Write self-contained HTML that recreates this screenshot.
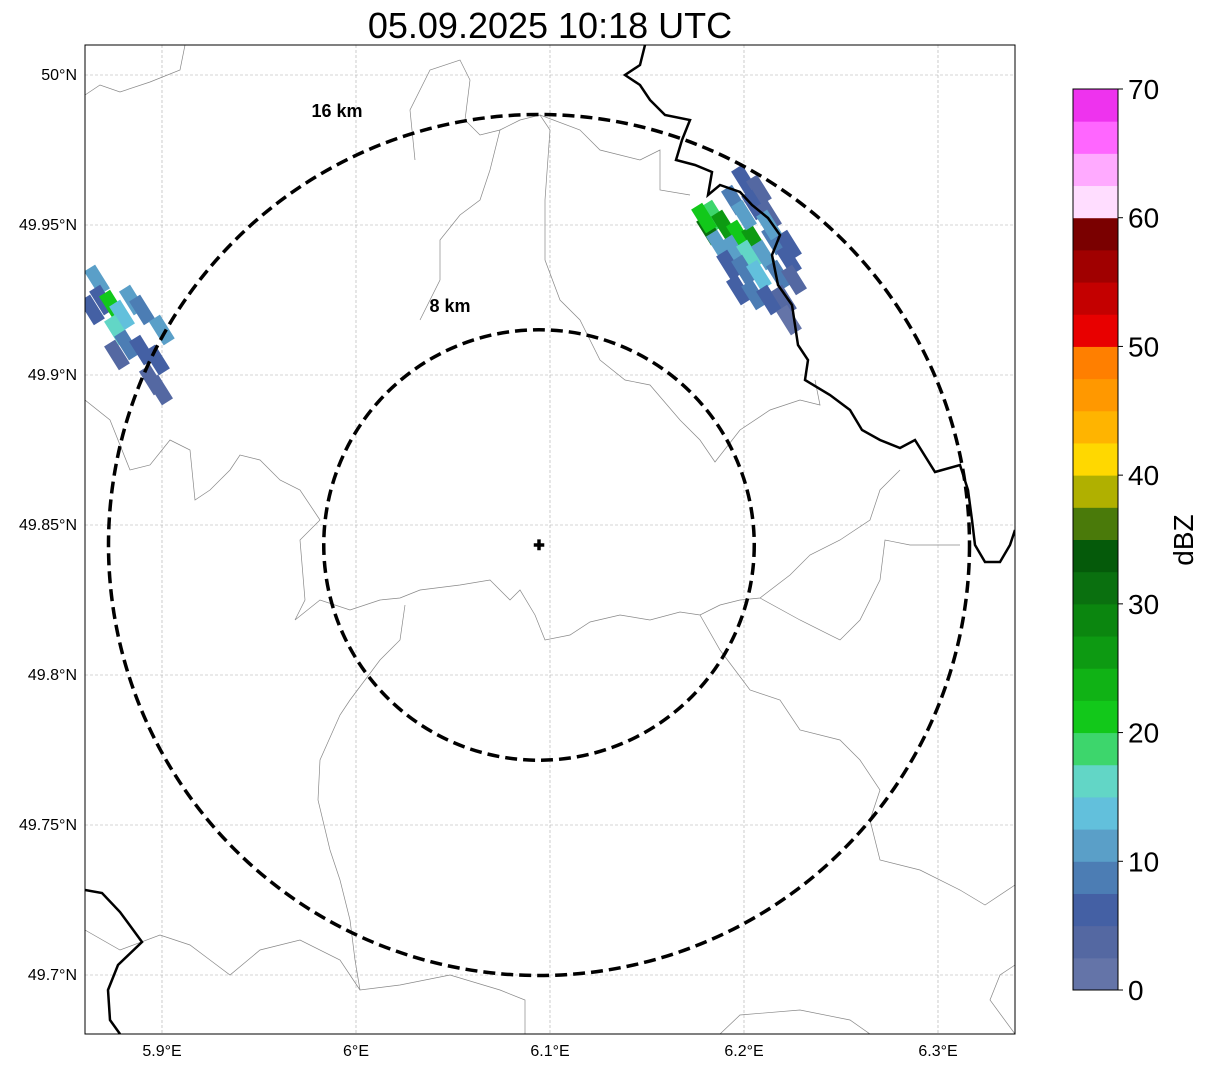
<!DOCTYPE html>
<html><head><meta charset="utf-8"><style>
body{margin:0;background:#fff;font-family:"Liberation Sans",sans-serif}
svg text{font-family:"Liberation Sans",sans-serif}
</style></head><body>
<svg id="c" width="1207" height="1069" xmlns="http://www.w3.org/2000/svg"></svg>
<script>
const lonTicks=[5.9,6.0,6.1,6.2,6.3];
const lonLabels=["5.9°E","6°E","6.1°E","6.2°E","6.3°E"];
const latTicks=[50.0,49.95,49.9,49.85,49.8,49.75,49.7];
const latLabels=["50°N","49.95°N","49.9°N","49.85°N","49.8°N","49.75°N","49.7°N"];
const cbTicks=[0,10,20,30,40,50,60,70];
const cbColors=["#6474a8","#5468a2","#4460a4","#4c7db4","#5a9fc8","#62c0dc","#62d6c6","#3dd66c","#12c81a","#10b215","#0d9a12","#0b860f","#0a700f","#055a0a","#4a7a0a","#b0b000","#ffd800","#ffb400","#ff9800","#ff7f00","#e80000","#c40000","#a00000","#7a0000","#ffddff","#ffaaff","#ff66ff","#ee33ee"];
const ringKm=[8,16];
// radar cells: lon, lat, dBZ
const cellLon=[6.2,6.2077,6.1948,6.2052,6.2129,6.1845,6.1897,6.1820,6.1974,6.2052,6.2155,6.2232,6.1871,6.1948,6.2026,6.2103,6.2232,6.1923,6.2,6.2077,6.2180,6.2258,6.1974,6.2052,6.2129,6.2206,6.2232,6.1794,6.2129,6.2,
5.8665,5.8691,5.8742,5.8794,5.8845,5.8897,5.8999,5.8768,5.8820,5.8897,5.8974,5.8768,5.8948,5.8990,5.8639];
const cellLat=[49.9650,49.9617,49.9583,49.9567,49.9533,49.9533,49.9500,49.9483,49.9467,49.9450,49.9450,49.9433,49.9433,49.9417,49.94,49.94,49.9383,49.9367,49.935,49.9333,49.9333,49.9317,49.9283,49.9267,49.925,49.925,49.9183,49.9523,49.95,49.9533,
49.9317,49.925,49.9233,49.92,49.925,49.9217,49.915,49.915,49.91,49.9083,49.905,49.9067,49.8983,49.895,49.9217];
const cellDbz=[5,3,8,5,3,18,25,30,22,25,8,5,12,10,15,12,5,5,8,14,8,3,5,8,5,3,2,20,10,12,
12,5,22,14,12,8,10,15,8,5,5,3,3,3,5];

const S=document.getElementById('c'),NS="http://www.w3.org/2000/svg";
function el(t,a,p){const e=document.createElementNS(NS,t);for(const k in a)e.setAttribute(k,a[k]);(p||S).appendChild(e);return e;}
const X0=85,X1=1015,Y0=45,Y1=1034;
const xS=lon=>162+(lon-5.9)*1940;
const yS=lat=>75+(50-lat)*3000;
const cx=539,cy=545,pxPerKm=430.5/16;
function color(v){return cbColors[Math.max(0,Math.min(27,Math.floor(v/2.5)))];}

const clip=el('clipPath',{id:'ax'});el('rect',{x:X0,y:Y0,width:X1-X0,height:Y1-Y0},clip);
const g=el('g',{'clip-path':'url(#ax)'});


lonTicks.forEach(l=>{const e=el('line',{x1:xS(l),x2:xS(l),y1:Y0,y2:Y1,stroke:'#aaa','stroke-width':0.6,'stroke-dasharray':'3,2'},g);});
latTicks.forEach(l=>{const e=el('line',{y1:yS(l),y2:yS(l),x1:X0,x2:X1,stroke:'#aaa','stroke-width':0.6,'stroke-dasharray':'3,2'},g);});
const thin=["M85,95 L100,85 L120,92 L150,82 L180,70 L185,45","M415,160 L410,110 L430,70 L460,60 L470,80 L465,120 L480,135 L500,130 L520,120 L540,115 L550,130 L545,200 L545,260 L560,300 L580,320 L600,360 L625,380 L650,385 L680,420 L700,440 L715,462 L740,430 L770,410 L800,400 L820,405 L815,380","M540,115 L580,130 L600,150 L640,160 L660,150 L660,190 L690,195","M500,130 L490,170 L480,200 L460,215 L440,240 L440,280 L420,320","M85,400 L110,420 L130,470 L150,465 L170,440 L190,450 L195,500 L210,490 L230,470 L240,455 L260,460 L280,480 L300,490 L320,520 L300,540 L305,600 L295,620 L320,600 L350,610 L380,600 L400,598 L420,590 L460,585 L490,580 L510,600 L520,590 L535,615 L545,640 L570,635 L590,622 L620,615 L650,620 L680,612 L700,615 L720,605 L740,600 L760,598 L790,575 L810,555 L840,540 L870,520 L880,490 L900,470","M405,605 L400,640 L380,660 L350,700 L340,715 L320,760 L318,800 L330,850 L340,880 L350,920 L355,960 L360,990 L400,985 L450,975 L500,990 L525,1000 L525,1034","M700,615 L720,650 L750,690 L780,700 L800,730 L840,740 L860,760 L880,790 L870,820 L880,860 L920,870 L960,890 L985,905 L1015,885","M760,598 L800,620 L840,640 L860,620 L880,580 L885,540 L910,545 L960,545","M85,930 L120,950 L160,935 L190,945 L210,960 L230,975 L260,950 L300,940 L340,960 L360,990","M720,1034 L740,1015 L800,1010 L850,1020 L870,1034","M1015,1034 L990,1000 L1000,975 L1015,965"];
thin.forEach(d=>{const e=el('path',{d,fill:'none',stroke:'#888','stroke-width':0.7},g);});
for(let i=0;i<cellLon.length;i++){
  const x=xS(cellLon[i]),y=yS(cellLat[i]);
  const r=el('rect',{x:x-6.5,y:y-14,width:13,height:28,fill:color(cellDbz[i]),transform:`rotate(-32 ${x} ${y})`},g);
  
  
}
const thick=["M645,45 L640,65 L625,75 L640,85 L650,100 L665,115 L690,120 L682,140 L676,160 L695,165 L712,172 L708,195 L720,185 L740,192 L752,205 L768,218 L780,235 L772,255 L778,285 L792,305 L798,345 L808,360 L805,380 L830,395 L850,410 L862,430 L880,440 L900,448 L915,440 L935,472 L960,465 L968,490 L972,520 L975,545 L985,562 L1000,562 L1010,545 L1015,530","M85,890 L102,893 L120,912 L142,942 L118,965 L108,990 L110,1020 L120,1034"];
thick.forEach(d=>{const e=el('path',{d,fill:'none',stroke:'#000','stroke-width':2.5},g);});
ringKm.forEach(k=>{const e=el('circle',{cx,cy,r:k*pxPerKm,fill:'none',stroke:'#000','stroke-width':3.5,'stroke-dasharray':'12,6'},g);});
const t8=el('text',{x:450,y:312,'font-size':18,'font-weight':'bold','text-anchor':'middle'});t8.textContent='8 km';
const t16=el('text',{x:337,y:117,'font-size':18,'font-weight':'bold','text-anchor':'middle'});t16.textContent='16 km';
const cr=el('text',{x:cx,y:cy+6,'font-size':18,'font-weight':'bold','text-anchor':'middle',stroke:'#000','stroke-width':1.5});cr.textContent='+';
const fr=el('rect',{x:X0,y:Y0,width:X1-X0,height:Y1-Y0,fill:'none',stroke:'#000','stroke-width':1});
lonTicks.forEach((l,i)=>{const t=el('text',{x:xS(l),y:1056,'font-size':16,'text-anchor':'middle'});t.textContent=lonLabels[i];});
latTicks.forEach((l,i)=>{const t=el('text',{x:77,y:yS(l)+5,'font-size':16,'text-anchor':'end'});t.textContent=latLabels[i];});
const ti=el('text',{x:550,y:38,'font-size':36,'text-anchor':'middle'});ti.textContent='05.09.2025 10:18 UTC';
const CB0=89,CB1=990,cbx=1073,cbw=45;
const cbY=v=>CB1-(v/70)*(CB1-CB0);
cbColors.forEach((c,i)=>{const r=el('rect',{x:cbx,y:cbY((i+1)*2.5),width:cbw,height:cbY(i*2.5)-cbY((i+1)*2.5)+0.5,fill:c});});
const cf=el('rect',{x:cbx,y:CB0,width:cbw,height:CB1-CB0,fill:'none',stroke:'#000','stroke-width':1});
cbTicks.forEach(v=>{el('line',{x1:cbx+cbw,x2:cbx+cbw+5,y1:cbY(v),y2:cbY(v),stroke:'#000'});const t=el('text',{x:1128,y:cbY(v)+10,'font-size':28});t.textContent=v;});
const cl=el('text',{x:1193,y:540,'font-size':28,'text-anchor':'middle',transform:'rotate(-90 1193 540)'});cl.textContent='dBZ';
</script>
</body></html>
